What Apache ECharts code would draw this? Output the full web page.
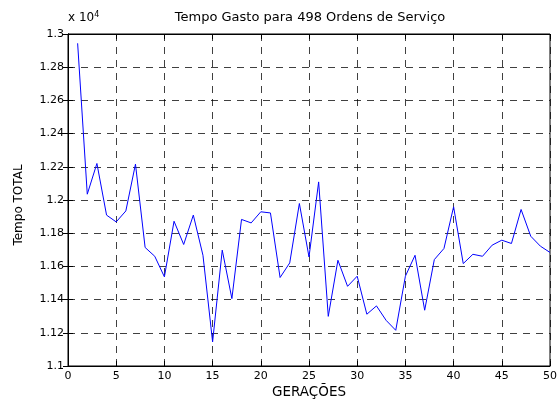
<!DOCTYPE html>
<html><head><meta charset="utf-8">
<script src="https://cdn.jsdelivr.net/npm/echarts@6/dist/echarts.min.js"></script>
<style>html,body{margin:0;padding:0;background:#fff}#c{width:560px;height:401px}</style>
</head><body><div id="c"></div>
<script>
const generations = [1,2,3,4,5,6,7,8,9,10,11,12,13,14,15,16,17,18,19,20,21,22,23,24,25,26,27,28,29,30,31,32,33,34,35,36,37,38,39,40,41,42,43,44,45,46,47,48,49,50];
const tempoTotal = [12944,12035,12220,11909,11868,11934,12216,11714,11661,11537,11872,11732,11909,11667,11145,11698,11406,11883,11862,11929,11922,11533,11621,11979,11657,12109,11299,11637,11480,11541,11312,11362,11275,11215,11541,11667,11336,11641,11708,11959,11617,11673,11661,11728,11758,11738,11943,11782,11722,11684];
const titleText = 'Tempo Gasto para 498 Ordens de Serviço';
const xName = 'GERAÇÕES';
const yName = 'Tempo TOTAL';
const F = 'DejaVu Sans, sans-serif';
const chart = echarts.init(document.getElementById('c'));
const data = generations.map((g,i)=>[g,tempoTotal[i]]);
const splitDash = {show:true,lineStyle:{color:'#000',type:[7,6],width:1,opacity:0.75}};
chart.setOption({
  animation:false,
  graphic:[
    {type:'text',x:310,y:18,style:{text:titleText,fontFamily:F,fontSize:13,fill:'#000',align:'center',verticalAlign:'middle'}},
    {type:'text',left:68,top:11,style:{text:'x 10{s|4}',rich:{s:{fontSize:8,verticalAlign:'top',fontFamily:F,padding:[0,0,6,0]}},fontFamily:F,fontSize:12,fill:'#000'}},
    {type:'text',x:19,y:205,rotation:Math.PI/2,style:{text:yName,fontFamily:F,fontSize:12,fill:'#000',align:'center',verticalAlign:'middle'}},
    {type:'text',x:309,y:392,style:{text:xName,fontFamily:F,fontSize:13.5,fill:'#000',align:'center',verticalAlign:'middle'}}
  ],
  grid:{left:68,right:9,top:34,bottom:35,show:true,borderColor:'#000',borderWidth:1,backgroundColor:'transparent'},
  xAxis:[
    {type:'value',min:0,max:50,interval:5,position:'bottom',
     axisLine:{show:true,lineStyle:{color:'#000'}},
     axisTick:{show:true,inside:true,length:5,lineStyle:{color:'#000'}},
     axisLabel:{fontFamily:F,fontSize:11,color:'#000',margin:5},
     splitLine:splitDash},
    {type:'value',min:0,max:50,interval:5,position:'top',
     axisLine:{show:true,lineStyle:{color:'#000'}},
     axisTick:{show:true,inside:true,length:5,lineStyle:{color:'#000'}},
     axisLabel:{show:false},splitLine:{show:false}}
  ],
  yAxis:[
    {type:'value',min:11000,max:13000,interval:200,position:'left',
     axisLine:{show:true,lineStyle:{color:'#000'}},
     axisTick:{show:true,inside:true,length:5,lineStyle:{color:'#000'}},
     axisLabel:{fontFamily:F,fontSize:11,color:'#000',margin:4,formatter:v=>String(parseFloat((v/10000).toFixed(2)))},
     splitLine:splitDash},
    {type:'value',min:11000,max:13000,interval:200,position:'right',
     axisLine:{show:true,lineStyle:{color:'#000'}},
     axisTick:{show:true,inside:true,length:5,lineStyle:{color:'#000'}},
     axisLabel:{show:false},splitLine:{show:false}}
  ],
  series:[{type:'line',data:data,xAxisIndex:0,yAxisIndex:0,showSymbol:false,symbol:'none',lineStyle:{color:'#0000ff',width:1},z:5}]
});
</script></body></html>
